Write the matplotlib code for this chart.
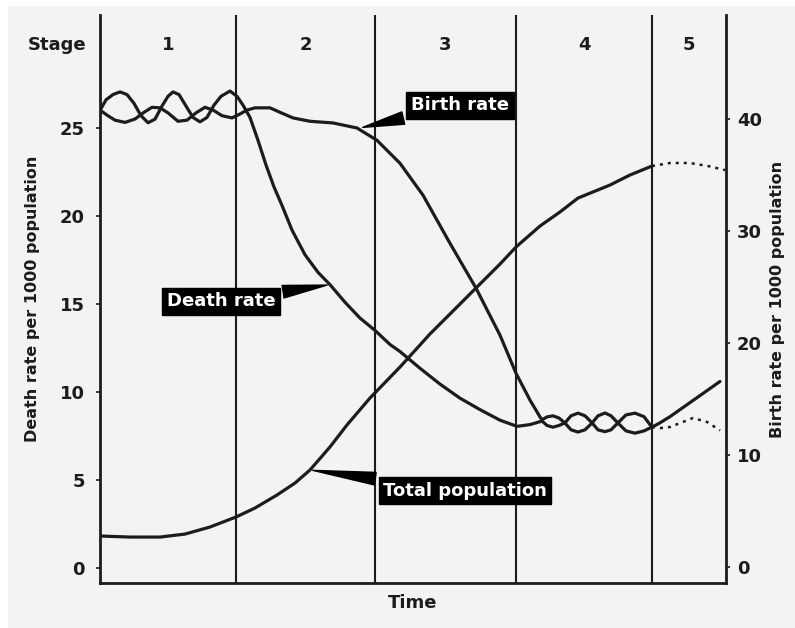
import matplotlib.pyplot as plt
from matplotlib.patches import Rectangle

# time in arbitrary units, stage boundaries
stage_bounds = [0, 136, 275, 416, 552, 626]
stage_names = ["1", "2", "3", "4", "5"]

# death rate per 1000 (left axis)
death_t = [0, 6, 13, 20, 27, 34, 41, 48, 55, 62, 68, 73, 79, 86, 93, 100, 107, 114, 121, 130,
           137, 143, 150, 158, 166, 174, 182, 192, 205, 218, 230, 245, 260, 275, 290, 300, 320,
           340, 360, 380, 400, 417, 430, 442, 447, 453, 459, 465, 471, 478, 485, 492, 498, 505,
           511, 518, 526, 535, 544, 552, 560, 570, 580, 590, 600, 610, 620]
death_v = [26.0, 26.6, 26.9, 27.05, 26.9, 26.4, 25.7, 25.3, 25.5, 26.25, 26.8, 27.05, 26.9, 26.25,
           25.6, 25.35, 25.6, 26.3, 26.8, 27.1, 26.8, 26.3, 25.6, 24.3, 22.9, 21.65, 20.6, 19.2,
           17.8, 16.8, 16.1, 15.1, 14.2, 13.5, 12.7, 12.3, 11.35, 10.45, 9.65, 9.0, 8.4, 8.05,
           8.15, 8.35, 8.1, 8.0, 8.1, 8.25, 8.65, 8.8, 8.65, 8.25, 7.85, 7.75, 7.85, 8.25, 8.7,
           8.8, 8.6, 8.0, 8.25, 8.6, 9.0, 9.4, 9.8, 10.2, 10.6]

# birth rate per 1000 (right axis)
birth_t = [0, 7, 15, 25, 35, 44, 52, 60, 68, 78, 87, 96, 105, 113, 122, 132, 140, 147, 155, 170,
           180, 193, 210, 233, 257, 277, 300, 323, 350, 376, 400, 416, 430, 440, 442, 447, 453,
           459, 465, 471, 478, 485, 492, 498, 505, 511, 518, 526, 535, 544, 552]
birth_v = [40.8, 40.35, 39.9, 39.7, 40.0, 40.6, 41.05, 41.0, 40.55, 39.8, 39.9, 40.55, 41.05,
           40.8, 40.3, 40.1, 40.45, 40.8, 41.0, 41.0, 40.6, 40.1, 39.8, 39.65, 39.2, 38.1, 36.05,
           33.2, 28.9, 24.9, 20.7, 17.3, 14.9, 13.4, 13.15, 13.4, 13.5, 13.3, 12.85, 12.25, 12.05,
           12.25, 12.85, 13.5, 13.75, 13.5, 12.85, 12.15, 11.95, 12.15, 12.5]
birth5_t = [552, 560, 570, 580, 593, 607, 620]
birth5_v = [12.5, 12.4, 12.5, 12.85, 13.3, 12.95, 12.2]

# total population (relative, drawn on left scale)
pop_t = [0, 30, 60, 85, 110, 136, 155, 177, 195, 210, 230, 247, 270, 300, 330, 360, 376, 400,
         416, 440, 460, 478, 510, 530, 552]
pop_v = [1.82, 1.76, 1.76, 1.93, 2.33, 2.9, 3.41, 4.15, 4.83, 5.57, 6.88, 8.13, 9.66, 11.42,
         13.3, 15.0, 15.91, 17.27, 18.24, 19.43, 20.23, 21.02, 21.76, 22.33, 22.84]
pop5_t = [552, 570, 590, 608, 625]
pop5_v = [22.84, 23.01, 23.01, 22.84, 22.61]

ink = "#1c1c1c"
bg = "#f3f3f3"
fs = 13

fig = plt.figure(figsize=(7.95, 6.28), dpi=100, facecolor="white")
fig.patches.append(Rectangle((8 / 795, 0), 1, 1 - 6 / 628, transform=fig.transFigure,
                             facecolor=bg, edgecolor="none", zorder=-10))
ax = fig.add_axes([100 / 795, 45 / 628, 626 / 795, 568 / 628])
ax.set_facecolor(bg)
ax2 = ax.twinx()

ax.set_xlim(stage_bounds[0], stage_bounds[-1])
ax.set_ylim(-0.85, 31.42)
ax2.set_ylim(-1.43, 49.29)

for b in stage_bounds[1:-1]:
    ax.axvline(b, color=ink, lw=1.5, zorder=1)

lw = 2.3
ax.plot(death_t, death_v, color=ink, lw=lw, solid_capstyle="round", zorder=3)
ax2.plot(birth_t, birth_v, color=ink, lw=lw, zorder=3)
ax2.plot(birth5_t, birth5_v, color=ink, lw=1.8, ls=(0, (1.2, 2)), zorder=3)
ax.plot(pop_t, pop_v, color=ink, lw=lw, zorder=3)
ax.plot(pop5_t, pop5_v, color=ink, lw=1.8, ls=(0, (1.2, 2)), zorder=3)

for sp in ["top", "right"]:
    ax.spines[sp].set_visible(False)
for sp in ["top", "left", "bottom"]:
    ax2.spines[sp].set_visible(False)
for s in [ax.spines["left"], ax.spines["bottom"], ax2.spines["right"]]:
    s.set_color(ink)
    s.set_linewidth(2)

ax.set_xticks([])
ax.set_yticks([0, 5, 10, 15, 20, 25])
ax2.set_yticks([0, 10, 20, 30, 40])
ax.tick_params(axis="y", length=3, width=1.2, color=ink, pad=8, labelsize=fs, labelcolor=ink)
ax2.tick_params(axis="y", length=3, width=1.2, color=ink, pad=5, labelsize=fs, labelcolor=ink)
for lab in ax.get_yticklabels() + ax2.get_yticklabels():
    lab.set_fontweight("bold")

ax.set_ylabel("Death rate per 1000 population", fontsize=11.5, fontweight="bold", color=ink,
              labelpad=14)
ax2.set_ylabel("Birth rate per 1000 population", fontsize=11.5, fontweight="bold", color=ink,
               rotation=90, labelpad=6)
ax.set_xlabel("Time", fontsize=fs, fontweight="bold", color=ink, labelpad=8)

# stage headers
for i, name in enumerate(stage_names):
    mid = (stage_bounds[i] + stage_bounds[i + 1]) / 2
    ax.text(mid, 29.7, name, ha="center", va="center", fontsize=fs, fontweight="bold", color=ink)
ax.text(-43, 29.7, "Stage", ha="center", va="center", fontsize=fs, fontweight="bold",
        color=ink, clip_on=False)

box = dict(boxstyle="square,pad=0.25", fc="black", ec="black")
arrow = dict(arrowstyle="wedge,tail_width=0.7,shrink_factor=0.5", fc="black", ec="black")
ax2.annotate("Birth rate", xy=(260, 39.2), xytext=(360, 41.25), ha="center", va="center",
             fontsize=13, fontweight="bold", color="white", bbox=box, arrowprops=arrow, zorder=5)
ax.annotate("Death rate", xy=(230, 16.1), xytext=(121, 15.17), ha="center", va="center",
            fontsize=13, fontweight="bold", color="white", bbox=box, arrowprops=arrow, zorder=5)
ax.annotate("Total population", xy=(210, 5.57), xytext=(365, 4.4), ha="center", va="center",
            fontsize=13, fontweight="bold", color="white", bbox=box, arrowprops=arrow, zorder=5)

fig.savefig("out.png", dpi=100, facecolor=fig.get_facecolor())
plt.close(fig)
